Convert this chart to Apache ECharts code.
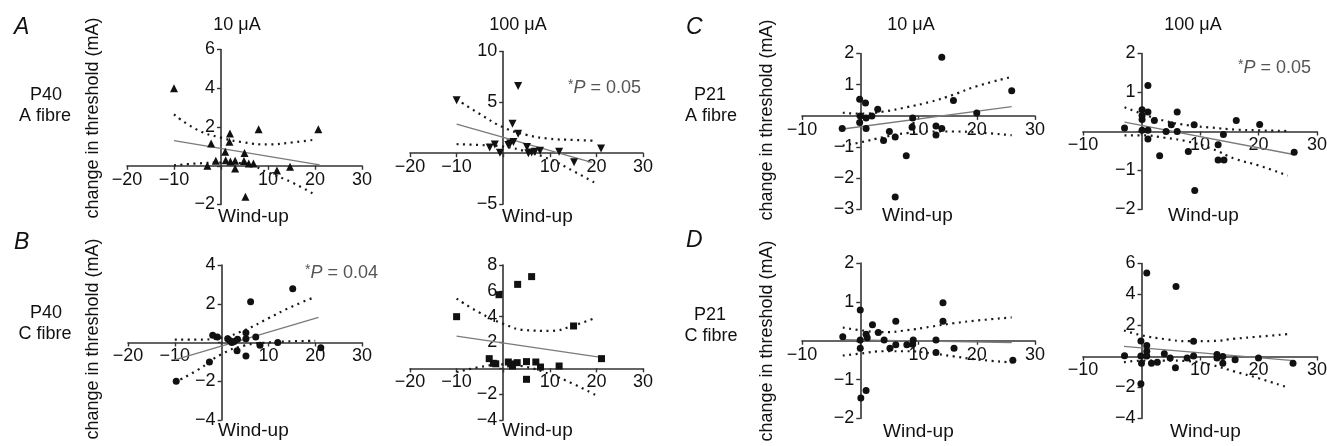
<!DOCTYPE html>
<html><head><meta charset="utf-8">
<script src="https://cdn.jsdelivr.net/npm/echarts@6/dist/echarts.min.js"></script>
<style>html,body{margin:0;padding:0;background:#fff}#c{width:1327px;height:446px}</style>
</head><body><div id="c"></div>
<script>
// ---------- data ----------
// x = wind-up, y = change in threshold (mA)
const ptsA10 = [[-10,4],[-2.9,0],[-2.1,1.15],[-1.1,0.26],[0.9,0.72],[1,0.28],[1.9,1.67],[1.8,1.24],[2,0.22],[3,0.26],[3,-0.14],[5,0.66],[4.9,0.24],[5.9,0.12],[6.9,0.12],[8,1.88],[5.2,-1.6],[11.9,-0.25],[14.7,-0.05],[20.7,1.88]];
const regA10 = [[-10,1.3],[21,0.05]];
const upA10  = [[-10,2.65],[-5,1.85],[0,1.45],[5,1.2],[10,1.1],[15,1.2],[20,1.35]];
const loA10  = [[-10,0.02],[-5,0.12],[0,0.16],[5,0.12],[10,-0.35],[15,-0.85],[20,-1.5]];

const ptsA100 = [[-10,5.2],[3.2,6.6],[2,2.9],[3.2,1.9],[-1.8,0.85],[-2.9,0.55],[-0.7,0.05],[1.1,0.8],[1.5,0.95],[2.2,1.1],[5.1,0.6],[5.4,0],[6.1,0.07],[6.8,0.13],[7.9,0.23],[12,0.13],[15.2,-0.9],[21,0.45]];
const regA100 = [[-10,2.85],[19,-0.9]];
const upA100  = [[-10,5.3],[-5,3.85],[0,2.55],[5,1.8],[10,1.42],[15,1.3],[20,1.22]];
const loA100  = [[-10,0.88],[-5,0.8],[0,0.65],[5,0.15],[10,-0.6],[15,-1.75],[20,-3.0]];

const ptsB10 = [[-9.7,-2],[-2.6,-1],[-1.9,0.38],[-0.9,0.29],[1.3,0.2],[1.8,0.09],[2.2,0],[2.7,0.05],[3.4,0.17],[3.3,-0.43],[5.2,0.5],[5.2,0.2],[5.2,-0.7],[6.2,2.1],[7.3,0.29],[8.2,-0.14],[12,0],[15.2,2.78],[21.2,-0.27]];
const regB10 = [[-10,-0.9],[20.7,1.3]];
const upB10  = [[-10,0.15],[-5,0.15],[0,0.25],[5,0.65],[10,1.25],[15,1.85],[20,2.35]];
const loB10  = [[-10,-2.05],[-5,-1.4],[0,-0.6],[5,-0.15],[10,0],[15,0.06],[20,0.09]];

const ptsB100 = [[-10,4],[-0.9,5.7],[3.1,6.5],[6.1,7.1],[-3,0.75],[-2.1,0.39],[-1.6,0.35],[1.1,0.49],[1.6,0.34],[2,0.18],[3,0.44],[5,0.52],[5,-0.85],[7,0.49],[8,0.1],[12,0.18],[15.1,3.28],[21.1,0.75]];
const regB100 = [[-10,2.5],[21,0.85]];
const upB100  = [[-10,5.4],[-5,4.3],[0,3.45],[5,2.95],[10,2.9],[15,3.3],[20,3.95]];
const loB100  = [[-10,-0.3],[-5,0.1],[0,0.3],[5,0.1],[10,-0.45],[15,-1.2],[20,-2.1]];

const ptsC10 = [[-3.1,-0.4],[-0.1,0.53],[0.9,0.41],[0,0],[-0.1,-0.21],[1,-0.07],[1,-0.4],[2,0],[3,0.21],[4,-0.79],[5,-0.5],[6,-0.68],[7.9,-1.28],[6,-2.6],[9,-0.07],[8.9,-0.36],[13,-0.32],[13,-0.61],[14,-0.4],[14,1.88],[16,0.49],[20,0.09],[26,0.81]];
const regC10 = [[-3,-0.42],[26,0.3]];
const upC10  = [[-3,0.1],[0,0.07],[4,0.14],[8,0.28],[12,0.45],[16,0.68],[20,0.95],[26,1.25]];
const loC10  = [[-3,-0.95],[0,-0.85],[4,-0.68],[8,-0.55],[12,-0.5],[16,-0.5],[20,-0.53],[26,-0.62]];

const ptsC100 = [[-2.9,0.09],[1.1,1.18],[0.1,0.56],[0.1,0.41],[0.1,0.31],[0.1,0.03],[1.1,0.5],[1.1,0.03],[1.1,-0.19],[2.2,0.28],[3.1,-0.62],[4.2,0],[5.1,0.17],[6.1,0.5],[6.1,0],[8,-0.51],[9,0.17],[9.1,-1.51],[13.1,-0.34],[13.1,-0.73],[14.1,-0.73],[14,-0.08],[16.2,0.28],[20.2,0.18],[26.1,-0.53]];
const regC100 = [[-2.9,0.24],[26,-0.59]];
const upC100  = [[-2.9,0.62],[0,0.46],[4,0.27],[8,0.16],[12,0.1],[16,0.05],[20,0.03],[25.5,0.01]];
const loC100  = [[-2.9,-0.1],[0,-0.1],[4,-0.16],[8,-0.26],[12,-0.44],[16,-0.7],[20,-0.87],[25,-1.13]];

const ptsD10 = [[-3,0.1],[0,0.79],[0,0.02],[0,-0.19],[0.1,-1.47],[1,-1.28],[1,0.17],[1.2,0.08],[2.1,0.41],[3.1,0.21],[4.1,0.02],[5.1,-0.19],[6.1,0.5],[6.1,-0.1],[8,-0.1],[9,-0.09],[9.1,0.02],[13,0.02],[13,-0.3],[14.2,0.98],[14.2,0.5],[16.1,-0.19],[26.2,-0.5]];
const regD10 = [[-3,0.03],[26,-0.05]];
const upD10  = [[-3,0.34],[0,0.27],[4,0.22],[8,0.27],[12,0.36],[16,0.45],[20,0.52],[26,0.6]];
const loD10  = [[-3,-0.38],[0,-0.33],[4,-0.27],[8,-0.27],[12,-0.32],[16,-0.4],[20,-0.48],[26,-0.56]];

const ptsD100 = [[-2.9,0.05],[0.9,5.38],[5.9,4.52],[-0.1,1.0],[-0.1,0.04],[0,-0.43],[-0.1,-1.76],[0.9,0.71],[0.9,0.34],[0.9,0.04],[1.7,-0.43],[2.7,-0.37],[3.9,0.17],[4.9,-0.09],[5.8,-0.73],[7.8,-0.09],[8.9,0.99],[8.9,0.04],[12.9,0.13],[12.9,-0.09],[13.9,0],[13.9,-0.43],[16,-0.21],[20,-0.09],[25.9,-0.43]];
const regD100 = [[-3,0.65],[26,-0.26]];
const upD100  = [[-3,1.68],[0,1.37],[4,1.12],[8,0.99],[12,1.0],[16,1.15],[20,1.28],[25.5,1.46]];
const loD100  = [[-3,-0.37],[0,-0.27],[4,-0.26],[8,-0.3],[12,-0.55],[16,-0.98],[20,-1.4],[25,-2.0]];

// axis ranges [min, max, interval]
const xRangeP40 = [-20, 30, 10];
const xRangeP21 = [-10, 30, 10];
const yRangeA10 = [-2, 6, 2];
const yRangeA100 = [-5, 10, 5];
const yRangeB10 = [-4, 4, 2];
const yRangeB100 = [-4, 8, 2];
const yRangeC10 = [-3, 2, 1];
const yRangeC100 = [-2, 2, 1];
const yRangeD10 = [-2, 2, 1];
const yRangeD100 = [-4, 6, 2];

// texts
const panelLetters = ['A', 'B', 'C', 'D'];
const columnTitles = ['10 μA', '100 μA', '10 μA', '100 μA'];
const rowLabels = [['P40', 'A fibre'], ['P40', 'C fibre'], ['P21', 'A fibre'], ['P21', 'C fibre']];
const yTitle = 'change in threshold (mA)';
const xTitle = 'Wind-up';
const pValues = ['0.05', '0.04', '0.05'];

// ---------- layout ----------
const FONT = '"Liberation Sans", Arial, Helvetica, sans-serif';
const panels = [
  {pts: ptsA10, reg: regA10, up: upA10, lo: loA10, sym: 'triangle', rot: 0, size: 8, xr: xRangeP40, yr: yRangeA10, g: [127, 49.5, 235, 155]},
  {pts: ptsA100, reg: regA100, up: upA100, lo: loA100, sym: 'triangle', rot: 180, size: 8, xr: xRangeP40, yr: yRangeA100, g: [410, 51.5, 233, 152.5]},
  {pts: ptsB10, reg: regB10, up: upB10, lo: loB10, sym: 'circle', rot: 0, size: 7, xr: xRangeP40, yr: yRangeB10, g: [128, 265, 234, 155]},
  {pts: ptsB100, reg: regB100, up: upB100, lo: loB100, sym: 'rect', rot: 0, size: 7, xr: xRangeP40, yr: yRangeB100, g: [410, 265, 233, 155]},
  {pts: ptsC10, reg: regC10, up: upC10, lo: loC10, sym: 'circle', rot: 0, size: 7, xr: xRangeP21, yr: yRangeC10, g: [802, 53.5, 233, 156]},
  {pts: ptsC100, reg: regC100, up: upC100, lo: loC100, sym: 'circle', rot: 0, size: 7, xr: xRangeP21, yr: yRangeC100, g: [1083, 53.5, 234, 156]},
  {pts: ptsD10, reg: regD10, up: upD10, lo: loD10, sym: 'circle', rot: 0, size: 7, xr: xRangeP21, yr: yRangeD10, g: [802, 263, 233, 155.5]},
  {pts: ptsD100, reg: regD100, up: upD100, lo: loD100, sym: 'circle', rot: 0, size: 7, xr: xRangeP21, yr: yRangeD100, g: [1083, 263.5, 234, 155]}
];

const fmt = v => v === 0 ? '' : (v < 0 ? '\u2212' + Math.abs(v) : String(v));
const lineSt = {color: '#333', width: 1.6};
const grids = [], xAxes = [], yAxes = [], series = [];
panels.forEach((p, i) => {
  const [left, top, w, h] = p.g;
  // place each axis where the other axis is zero (axes cross at the origin)
  const xOff = -h * (0 - p.yr[0]) / (p.yr[1] - p.yr[0]);
  const yOff = -w * (0 - p.xr[0]) / (p.xr[1] - p.xr[0]);
  grids.push({left: left, top: top, width: w, height: h, containLabel: false, outerBoundsMode: 'none'});
  xAxes.push({type: 'value', gridIndex: i, position: 'bottom', offset: xOff, min: p.xr[0], max: p.xr[1], interval: p.xr[2],
    axisLine: {onZero: false, lineStyle: lineSt}, splitLine: {show: false},
    axisTick: {show: true, length: 4, lineStyle: {color: '#333', width: 1.4}},
    axisLabel: {formatter: fmt, margin: 5, fontSize: 18, color: '#111', fontFamily: FONT, hideOverlap: false}});
  yAxes.push({type: 'value', gridIndex: i, position: 'left', offset: yOff, min: p.yr[0], max: p.yr[1], interval: p.yr[2],
    axisLine: {onZero: false, lineStyle: lineSt}, splitLine: {show: false},
    axisTick: {show: true, length: 4, lineStyle: {color: '#333', width: 1.4}},
    axisLabel: {formatter: fmt, margin: 6, fontSize: 18, color: '#111', fontFamily: FONT, hideOverlap: false}});
  series.push({type: 'line', xAxisIndex: i, yAxisIndex: i, data: p.up, smooth: true, showSymbol: false, silent: true,
    lineStyle: {color: '#1a1a1a', width: 2.2, type: [2, 4.5]}, z: 2});
  series.push({type: 'line', xAxisIndex: i, yAxisIndex: i, data: p.lo, smooth: true, showSymbol: false, silent: true,
    lineStyle: {color: '#1a1a1a', width: 2.2, type: [2, 4.5]}, z: 2});
  series.push({type: 'line', xAxisIndex: i, yAxisIndex: i, data: p.reg, showSymbol: false, silent: true,
    lineStyle: {color: '#7a7a7a', width: 1.3}, z: 3});
  series.push({type: 'scatter', xAxisIndex: i, yAxisIndex: i, data: p.pts, symbol: p.sym, symbolRotate: p.rot,
    symbolSize: p.size, itemStyle: {color: '#111', opacity: 1}, z: 4});
});

function txt(text, x, y, opts) {
  return Object.assign({type: 'text', x: x, y: y, silent: true,
    style: Object.assign({text: text, fill: '#111', font: '18px ' + FONT, align: 'center', verticalAlign: 'middle',
      textAlign: 'center', textVerticalAlign: 'middle'}, opts && opts.style)}, opts && opts.el);
}
function ptxt(val, x, y) {
  return {type: 'text', x: x, y: y, silent: true,
    style: {text: '{a|*}{b|P}{c| = ' + val + '}', align: 'left', verticalAlign: 'middle', textAlign: 'left', textVerticalAlign: 'middle',
      fill: '#555', font: '18px ' + FONT,
      rich: {a: {fontSize: 14, fill: '#555', color: '#555', fontFamily: FONT, verticalAlign: 'top', padding: [0, 0, 6, 0]},
             b: {fontSize: 18, fontStyle: 'italic', fill: '#555', color: '#555', fontFamily: FONT},
             c: {fontSize: 18, fill: '#555', color: '#555', fontFamily: FONT}}}};
}
const L = {style: {font: 'italic 23px ' + FONT, align: 'left', textAlign: 'left'}};
const W = {style: {font: '19px ' + FONT, align: 'left', textAlign: 'left'}};
const R = {el: {rotation: Math.PI / 2}};
const graphics = [
  txt(panelLetters[0], 14, 28, L), txt(panelLetters[1], 14, 243, L),
  txt(panelLetters[2], 686, 28, L), txt(panelLetters[3], 686, 241, L),
  txt(columnTitles[0], 237, 25), txt(columnTitles[1], 518, 25),
  txt(columnTitles[2], 911, 25), txt(columnTitles[3], 1193, 25),
  txt(rowLabels[0][0], 46, 95), txt(rowLabels[0][1], 45, 116),
  txt(rowLabels[1][0], 46, 313), txt(rowLabels[1][1], 45, 334),
  txt(rowLabels[2][0], 710, 95), txt(rowLabels[2][1], 711, 116),
  txt(rowLabels[3][0], 710, 315), txt(rowLabels[3][1], 711, 336),
  txt(yTitle, 93, 118, R), txt(yTitle, 93, 339, R),
  txt(yTitle, 767, 120, R), txt(yTitle, 767, 341, R),
  txt(xTitle, 218, 217, W), txt(xTitle, 502, 217, W),
  txt(xTitle, 218, 431, W), txt(xTitle, 502, 431, W),
  txt(xTitle, 882, 216, W), txt(xTitle, 1168, 216, W),
  txt(xTitle, 883, 432, W), txt(xTitle, 1170, 432, W),
  ptxt(pValues[0], 568, 88), ptxt(pValues[1], 305, 273), ptxt(pValues[2], 1238, 68)
];

const chart = echarts.init(document.getElementById('c'), null, {renderer: 'canvas'});
chart.setOption({
  animation: false,
  backgroundColor: '#fff',
  textStyle: {fontFamily: FONT},
  grid: grids, xAxis: xAxes, yAxis: yAxes, series: series, graphic: graphics
});
</script></body></html>
